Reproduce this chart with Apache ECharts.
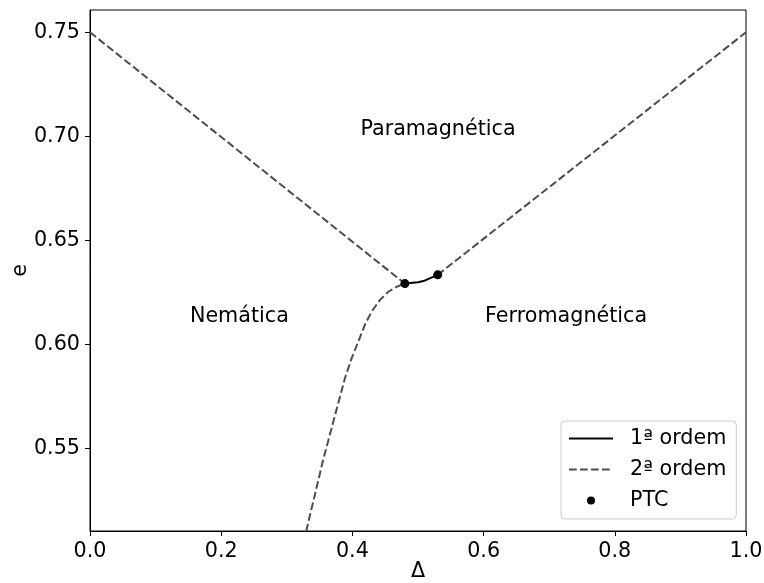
<!DOCTYPE html>
<html>
<head>
<meta charset="utf-8">
<script src="https://cdn.jsdelivr.net/npm/echarts@6/dist/echarts.min.js"></script>
<style>html,body{margin:0;padding:0;background:#fff}#c{width:764px;height:583px}</style>
</head>
<body>
<div id="c"></div>
<script>
// Data
const firstOrder = [[0.48, 0.6293], [0.50, 0.6300], [0.51, 0.6307], [0.53, 0.6335]];
const secondOrderLeft = [[0.0, 0.75], [0.48, 0.6293]];
const secondOrderRight = [[0.53, 0.6335], [1.0, 0.75]];
const secondOrderCurve = [
  [0.3215, 0.500], [0.330, 0.511], [0.3557, 0.545], [0.376, 0.569], [0.3887, 0.584],
  [0.3989, 0.5935], [0.409, 0.6015], [0.419, 0.6095], [0.4294, 0.6159], [0.442, 0.6215],
  [0.4548, 0.6254], [0.4675, 0.6278], [0.48, 0.6293]
];
const ptc = [[0.48, 0.6293], [0.53, 0.6335]];
const regionLabels = [[0.41, 0.70, 'Paramagnética'], [0.15, 0.61, 'Nemática'], [0.60, 0.61, 'Ferromagnética']];
const yTicks = [0.55, 0.60, 0.65, 0.70, 0.75];
const legendNames = ['1ª ordem', '2ª ordem', 'PTC'];

const FONT = 'DejaVu Sans';
const FS = 20.7;
const dashColor = '#4d4d4d';
const dashStyle = { color: dashColor, width: 2, type: [7.7, 3.3] };
const hiddenDot = { color: 'rgba(0,0,0,0)', borderWidth: 0 };

const chart = echarts.init(document.getElementById('c'), null, { renderer: 'canvas' });
chart.setOption({
  animation: false,
  backgroundColor: '#fff',
  textStyle: { fontFamily: FONT },
  grid: { left: 90, right: 18, top: 10, bottom: 52, containLabel: false, outerBoundsMode: 'none', show: true, borderColor: '#000', borderWidth: 1, backgroundColor: 'transparent' },
  xAxis: {
    type: 'value', min: 0, max: 1, interval: 0.2,
    name: 'Δ', nameLocation: 'middle', nameGap: 30, nameMoveOverlap: false,
    nameTextStyle: { fontFamily: FONT, fontSize: FS, color: '#000' },
    axisLine: { show: true, lineStyle: { color: '#000', width: 1 } },
    axisTick: { show: true, length: 5, inside: false, lineStyle: { color: '#000' } },
    axisLabel: { fontFamily: FONT, fontSize: FS, color: '#000', margin: 10, formatter: v => v.toFixed(1) },
    splitLine: { show: false }
  },
  yAxis: {
    type: 'value', min: 0.5105, max: 0.7607,
    name: 'e', nameLocation: 'middle', nameGap: 59, nameRotate: 90, nameMoveOverlap: false,
    nameTextStyle: { fontFamily: FONT, fontSize: FS, color: '#000' },
    axisLine: { show: true, lineStyle: { color: '#000', width: 1 } },
    axisTick: { show: true, length: 5, inside: false, customValues: yTicks, lineStyle: { color: '#000' } },
    axisLabel: { fontFamily: FONT, fontSize: FS, color: '#000', margin: 10, customValues: yTicks, formatter: v => v.toFixed(2) },
    splitLine: { show: false }
  },
  legend: {
    data: [
      { name: legendNames[0], itemStyle: hiddenDot },
      { name: legendNames[1], itemStyle: hiddenDot },
      { name: legendNames[2] }
    ],
    orient: 'vertical',
    left: 561, top: 421,
    padding: [7, 10, 8, 7],
    itemWidth: 44, itemHeight: 8, itemGap: 10,
    backgroundColor: 'rgba(255,255,255,0.8)',
    borderColor: '#cccccc', borderWidth: 1, borderRadius: 4,
    textStyle: { fontFamily: FONT, fontSize: FS, color: '#000', lineHeight: 21, padding: [0, 0, 0, 12] }
  },
  series: [
    { name: '1ª ordem', type: 'line', data: firstOrder, symbol: 'none', showSymbol: false, smooth: false, lineStyle: { color: '#000', width: 2 }, itemStyle: { color: '#000' }, z: 3 },
    { name: '2ª ordem', type: 'line', data: secondOrderLeft, symbol: 'none', showSymbol: false, lineStyle: dashStyle, itemStyle: { color: dashColor }, z: 2 },
    { name: '2ª ordem', type: 'line', data: secondOrderRight, symbol: 'none', showSymbol: false, lineStyle: dashStyle, itemStyle: { color: dashColor }, z: 2 },
    { name: '2ª ordem', type: 'line', data: secondOrderCurve, symbol: 'none', showSymbol: false, smooth: false, lineStyle: dashStyle, itemStyle: { color: dashColor }, z: 2 },
    { name: 'PTC', type: 'scatter', data: ptc, symbol: 'circle', symbolSize: 9, itemStyle: { color: '#000', opacity: 1 }, z: 4 },
    {
      name: 'labels', type: 'scatter', data: regionLabels, symbolSize: 1,
      itemStyle: { color: 'rgba(0,0,0,0)', opacity: 1 }, silent: true,
      label: { show: true, position: [0, 0], align: 'left', verticalAlign: 'bottom', offset: [2, 4],
        fontFamily: FONT, fontSize: FS, color: '#000', opacity: 1, formatter: p => p.data[2] }
    }
  ]
});
</script>
</body>
</html>
